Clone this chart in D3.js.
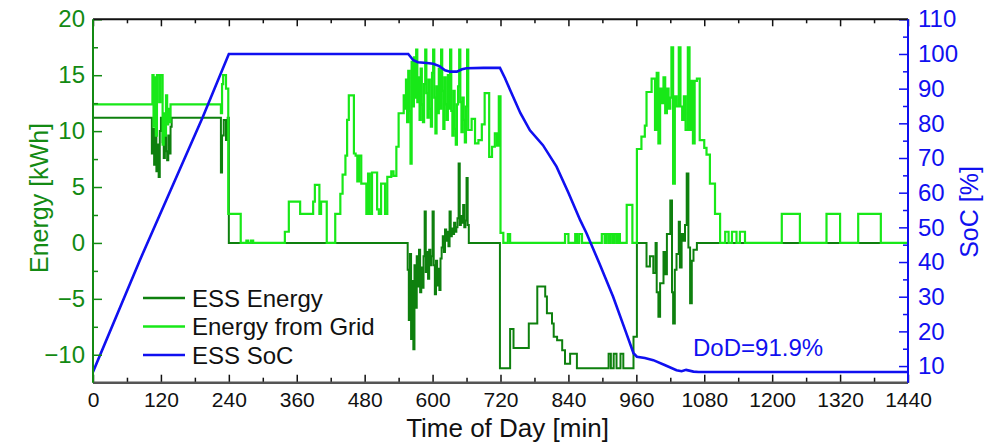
<!DOCTYPE html>
<html>
<head>
<meta charset="utf-8">
<script src="https://cdn.jsdelivr.net/npm/d3@7"></script>
<style>
  body { margin:0; background:#fff; }
  svg text { font-family: "Liberation Sans", Arial, sans-serif; }
</style>
</head>
<body>
<div id="chart"></div>
<script>
// ---- data ----
var timeTicks = [0,120,240,360,480,600,720,840,960,1080,1200,1320,1440];
var timeMinor = [60,180,300,420,540,660,780,900,1020,1140,1260,1380];
var energyTicks = [-10,-5,0,5,10,15,20];
var energyMinor = [-12.5,-7.5,-2.5,2.5,7.5,12.5,17.5];
var socTicks = [10,20,30,40,50,60,70,80,90,100,110];
var socMinor = [15,25,35,45,55,65,75,85,95,105];
var seriesNames = ["ESS Energy","Energy from Grid","ESS SoC"];
var dodLabel = "DoD=91.9%";

// [minute, kWh] held until next point
var essEnergy = [
  [0,11.2],[104,8.0],[106,10.2],[108,7.0],[110,9.8],[112,6.4],[114,8.8],[116,5.9],[118,10.0],[120,11.2],
  [123,9.0],[125,7.6],[127,10.0],[129,8.2],[131,7.4],[133,9.6],[135,8.0],[137,10.4],[139,11.2],
  [226,6.3],[228,9.6],[231,11.0],[235,9.2],[238,11.2],[240,0],
  [556,-2.4],[558,-6.9],[560,-1.0],[562,-8.6],[564,-3.4],[566,-9.5],[568,-2.0],[570,-5.8],[572,-1.2],
  [574,-3.9],[576,-0.6],[578,-4.4],[580,-2.2],[582,-4.0],[584,-1.2],[586,2.8],[588,-2.6],[590,-0.8],
  [592,-3.2],[594,-0.6],[596,-2.0],[598,-1.2],[600,2.8],[602,-2.0],[604,-4.6],[606,-1.6],[608,-3.8],
  [610,-2.3],[612,-4.2],[614,-1.4],[616,-0.4],[618,0.6],[620,-0.8],[622,1.2],[624,0.2],[626,1.0],
  [628,-0.3],[630,2.8],[632,0.6],[634,1.3],[636,0.8],[638,1.8],[640,1.0],[642,1.4],[644,2.2],
  [646,7.1],[648,1.6],[650,2.4],[652,1.8],[654,3.4],[656,1.4],[658,2.0],[660,5.8],[662,1.6],[664,0],
  [719,-11.2],[737,-7.7],[743,-9.4],[770,-7.2],[785,-3.9],[799,-4.8],[802,-6.3],[811,-7.2],[814,-8.4],
  [820,-8.7],[829,-9.6],[834,-10.8],[843,-9.9],[855,-11.2],[911,-9.9],[915,-11.2],[920,-9.9],[925,-11.2],
  [932,-9.9],[937,-11.2],[955,-8.4],[961,0],[978,-2.1],[984,-1.2],[990,-2.7],[994,0],[996,-4.4],
  [999,-6.6],[1002,-3.6],[1008,-0.8],[1011,-2.8],[1014,0.8],[1020,3.8],[1023,-4.4],[1025,-7.2],
  [1028,-2.4],[1031,-1.0],[1035,1.9],[1037,-2.2],[1040,0.8],[1043,0.2],[1046,1.6],[1049,6.2],
  [1052,-0.4],[1055,-5.4],[1058,-1.6],[1061,-0.6],[1067,0],[1440,0]
];

var gridEnergy = [
  [0,12.4],[105,15.0],[107,10.4],[109,14.8],[111,9.6],[113,15.0],[117,12.6],[119,15.0],[123,8.8],
  [125,11.6],[127,9.6],[129,13.2],[131,10.6],[133,12.0],[135,10.8],[137,12.4],
  [226,11.6],[228,14.2],[230,15.0],[235,13.8],[239,2.6],[261,0],[271,0.2],[274,0],[279,0.2],[283,0],
  [339,1.0],[346,3.7],[366,2.6],[389,3.7],[392,5.2],[400,2.6],[403,3.7],[413,0],[428,2.6],[437,4.4],
  [441,6.1],[446,7.8],[449,11.0],[452,13.2],[461,8.0],[464,7.8],[467,5.5],[470,7.8],[474,5.3],
  [483,2.6],[486,6.2],[489,2.6],[493,6.3],[502,3.0],[505,2.6],[509,5.3],[516,2.6],[520,5.9],
  [527,6.4],[531,6.0],[536,8.6],[540,11.6],[549,13.2],
  [551,12.0],[553,14.6],[555,10.8],[557,15.4],[559,11.8],[561,7.1],[563,16.2],[565,12.2],[567,16.6],
  [569,13.0],[571,17.3],[573,12.6],[575,14.8],[577,11.0],[579,15.6],[581,12.4],[583,10.8],[585,14.2],
  [587,17.3],[589,13.4],[591,11.2],[593,14.6],[595,12.0],[597,10.4],[599,15.2],[601,17.3],[603,13.0],
  [605,9.8],[607,14.0],[609,11.6],[611,15.6],[613,12.0],[615,17.3],[617,13.6],[619,10.2],[621,14.8],
  [623,12.4],[625,11.0],[627,15.0],[629,12.0],[631,17.3],[633,11.8],[635,9.6],[637,13.6],[639,10.2],
  [641,8.8],[643,12.4],[645,14.0],[647,17.3],[649,12.6],[651,9.9],[653,13.0],[655,11.0],[657,9.0],
  [659,12.2],[661,17.3],[663,10.1],[669,11.1],[675,8.9],[681,9.2],[687,10.6],[692,13.4],[700,7.7],
  [705,8.6],[710,9.8],[714,8.7],[717,13.1],[720,0.9],[725,0],[733,0.8],[737,0],
  [834,0.8],[840,0],[852,0.8],[855,0],[859,0.8],[864,0],[899,0.8],[904,0],[907,0.8],[911,0],
  [914,0.8],[918,0],[921,0.8],[925,0],[928,0.8],[931,0],[943,3.4],[953,0],
  [961,8.4],[969,9.5],[975,10.5],[978,13.5],[987,14.7],[993,10.1],[996,15.2],[999,8.9],[1002,13.8],
  [1005,12.5],[1008,14.8],[1011,11.6],[1014,13.8],[1017,12.0],[1020,13.0],[1022,17.5],[1025,5.3],
  [1028,13.1],[1031,12.2],[1035,17.5],[1038,12.2],[1041,11.0],[1044,13.1],[1047,10.1],[1051,17.5],
  [1054,10.1],[1057,14.5],[1060,8.9],[1063,14.5],[1067,14.7],[1072,9.2],[1080,8.5],[1084,7.9],
  [1090,5.3],[1099,2.6],[1108,0],[1117,1.0],[1123,0],[1129,1.0],[1137,0],[1143,1.0],[1152,0],
  [1217,2.6],[1249,0],[1296,2.6],[1320,0],[1352,2.6],[1392,0],[1440,0]
];

// [minute, %]
var essSoc = [
  [0,8.3],[83,40.6],[194,81.8],[240,100],[557,100],[566,98.2],[574,97.6],[590,97.4],[601,97.2],
  [612,96.5],[622,95.3],[631,94.9],[643,94.9],[652,95.6],[660,95.9],[690,96],[719,96],[728,93],
  [737,89.6],[755,83],[772,78],[795,73.7],[819,67.5],[840,60],[861,52],[872,48.3],[895,39.5],
  [919,30],[940,20.5],[955,13.7],[961,12.7],[975,12.3],[990,11.7],[1010,10.3],[1031,8.8],
  [1040,8.5],[1048,8.9],[1061,8.4],[1070,8.3],[1440,8.3]
];

// ---- drawing ----
var W = 994, H = 444;
var pL = 93, pR = 908, pT = 19.3, pB = 382.7;
var cEss = "#0e800e", cGrid = "#18e818", cSoc = "#1010f0";
var cLeft = "#138a13", cRight = "#1010f0";

var svg = d3.select("#chart").append("svg").attr("width",W).attr("height",H);

var x = d3.scaleLinear().domain([0,1440]).range([pL,pR]);
var yE = d3.scaleLinear().domain([-12.5,20]).range([pB,pT]);
var yS = d3.scaleLinear().domain([5.2,110]).range([pB,pT]);

svg.append("clipPath").attr("id","clip").append("rect")
  .attr("x",pL).attr("y",pT).attr("width",pR-pL).attr("height",pB-pT);

var stepLine = d3.line().x(d=>x(d[0])).y(d=>yE(d[1])).curve(d3.curveStepAfter);
var socLine = d3.line().x(d=>x(d[0])).y(d=>yS(d[1]));

var plot = svg.append("g").attr("clip-path","url(#clip)");
plot.append("path").datum(essEnergy).attr("d",stepLine)
  .attr("fill","none").attr("stroke",cEss).attr("stroke-width",2);
plot.append("path").datum(gridEnergy).attr("d",stepLine)
  .attr("fill","none").attr("stroke",cGrid).attr("stroke-width",2.2);
plot.append("path").datum(essSoc).attr("d",socLine)
  .attr("fill","none").attr("stroke",cSoc).attr("stroke-width",2.6);

// axes
var styleAxis = function(g, col, fs){
  g.selectAll(".domain").remove();
  g.selectAll(".tick line").attr("stroke",col).attr("stroke-width",1.5);
  g.selectAll(".tick text").attr("fill",col).style("font-size",fs);
}
var fmt = d3.format("d");

var gx = svg.append("g").attr("transform","translate(0,"+pB+")")
  .call(d3.axisBottom(x).tickValues(timeTicks).tickFormat(fmt).tickSize(-8).tickSizeOuter(0).tickPadding(9));
styleAxis(gx,"#111","21px");
var gxm = svg.append("g").attr("transform","translate(0,"+pB+")")
  .call(d3.axisBottom(x).tickValues(timeMinor).tickSize(-5).tickFormat(""));
styleAxis(gxm,"#111","0px");
var gxt = svg.append("g").attr("transform","translate(0,"+pT+")")
  .call(d3.axisTop(x).tickValues(timeTicks).tickSize(-7).tickFormat(""));
styleAxis(gxt,"#111","0px");
var gxtm = svg.append("g").attr("transform","translate(0,"+pT+")")
  .call(d3.axisTop(x).tickValues(timeMinor).tickSize(-4).tickFormat(""));
styleAxis(gxtm,"#111","0px");

var gl = svg.append("g").attr("transform","translate("+pL+",0)")
  .call(d3.axisLeft(yE).tickValues(energyTicks).tickFormat(fmt).tickSize(-9).tickSizeOuter(0).tickPadding(8));
styleAxis(gl,cLeft,"24px");
var glm = svg.append("g").attr("transform","translate("+pL+",0)")
  .call(d3.axisLeft(yE).tickValues(energyMinor).tickSize(-5).tickFormat(""));
styleAxis(glm,cLeft,"0px");

var gr = svg.append("g").attr("transform","translate("+pR+",0)")
  .call(d3.axisRight(yS).tickValues(socTicks).tickFormat(fmt).tickSize(-9).tickSizeOuter(0).tickPadding(10));
styleAxis(gr,cRight,"24px");
var grm = svg.append("g").attr("transform","translate("+pR+",0)")
  .call(d3.axisRight(yS).tickValues(socMinor).tickSize(-5).tickFormat(""));
styleAxis(grm,cRight,"0px");

// frame
svg.append("line").attr("x1",pL).attr("x2",pR).attr("y1",pT).attr("y2",pT)
  .attr("stroke","#111").attr("stroke-width",2);
svg.append("line").attr("x1",pL).attr("x2",pR).attr("y1",pB).attr("y2",pB)
  .attr("stroke","#555").attr("stroke-width",2.5);
svg.append("line").attr("x1",pL).attr("x2",pL).attr("y1",pT).attr("y2",pB)
  .attr("stroke",cLeft).attr("stroke-width",2);
svg.append("line").attr("x1",pR).attr("x2",pR).attr("y1",pT).attr("y2",pB)
  .attr("stroke",cRight).attr("stroke-width",2);

// titles
svg.append("text").attr("x",(pL+pR)/2+7).attr("y",437).attr("text-anchor","middle")
  .style("font-size","26px").attr("fill","#111").text("Time of Day [min]");
svg.append("text").attr("transform","translate(48,198) rotate(-90)").attr("text-anchor","middle")
  .style("font-size","25px").attr("fill",cLeft).text("Energy [kWh]");
svg.append("text").attr("transform","translate(978,212) rotate(-90)").attr("text-anchor","middle")
  .style("font-size","25px").attr("fill",cRight).text("SoC [%]");

// legend
var legCols = [cEss,cGrid,cSoc];
var leg = svg.append("g").selectAll("g").data(seriesNames).enter().append("g")
  .attr("transform",(d,i)=>"translate(143,"+(298+i*28.5)+")");
leg.append("line").attr("x1",0).attr("x2",42).attr("y1",0).attr("y2",0)
  .attr("stroke",(d,i)=>legCols[i]).attr("stroke-width",2.4);
leg.append("text").attr("x",49).attr("dy","0.36em").style("font-size","24px")
  .attr("fill","#111").text(d=>d);

svg.append("text").attr("x",693).attr("y",356).style("font-size","24px")
  .attr("fill",cRight).text(dodLabel);
</script>
</body>
</html>
